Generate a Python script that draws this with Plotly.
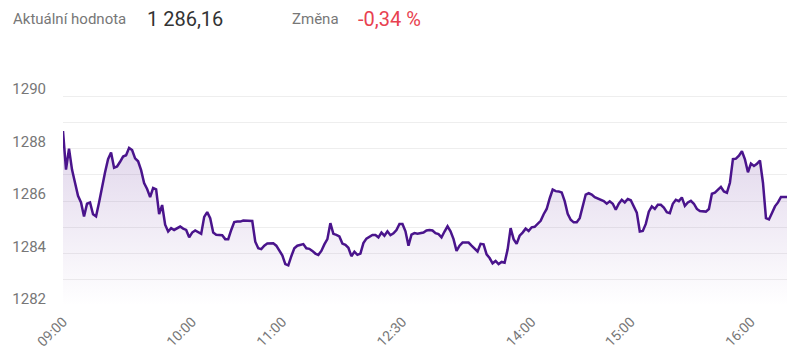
import plotly.graph_objects as go

values = [
    1288.67, 1287.2, 1288.0, 1287.2, 1286.7, 1286.2, 1285.95, 1285.41, 1285.9, 1285.95,
    1285.5, 1285.42, 1285.95, 1286.6, 1287.1, 1287.6, 1287.85, 1287.27, 1287.32, 1287.5,
    1287.7, 1287.75, 1288.03, 1287.95, 1287.63, 1287.52, 1287.18, 1286.69, 1286.46, 1286.15,
    1286.5, 1286.45, 1285.5, 1285.85, 1285.1, 1284.84, 1284.97, 1284.9, 1284.95, 1285.03,
    1284.95, 1284.9, 1284.62, 1284.8, 1284.88, 1284.8, 1284.75, 1285.4, 1285.58, 1285.35,
    1284.8, 1284.72, 1284.71, 1284.7, 1284.55, 1284.55, 1284.9, 1285.2, 1285.22, 1285.22,
    1285.26, 1285.26, 1285.26, 1285.24, 1284.45, 1284.2, 1284.17, 1284.3, 1284.38, 1284.39,
    1284.39, 1284.3, 1284.1, 1283.93, 1283.6, 1283.55, 1283.9, 1284.2, 1284.3, 1284.33,
    1284.36, 1284.2, 1284.18, 1284.1, 1284.0, 1283.95, 1284.1, 1284.35, 1284.55, 1285.16,
    1284.75, 1284.71, 1284.65, 1284.38, 1284.33, 1284.22, 1283.9, 1284.07, 1283.95, 1284.0,
    1284.4, 1284.57, 1284.64, 1284.71, 1284.71, 1284.62, 1284.8, 1284.68, 1284.85, 1284.7,
    1284.77, 1284.9, 1285.13, 1285.13, 1284.85, 1284.3, 1284.72, 1284.78, 1284.76, 1284.77,
    1284.8, 1284.88, 1284.9, 1284.88, 1284.78, 1284.74, 1284.62, 1284.84, 1285.04, 1284.85,
    1284.55, 1284.1, 1284.3, 1284.42, 1284.42, 1284.42, 1284.3, 1284.2, 1284.08, 1284.37,
    1284.35, 1283.97, 1283.83, 1283.63, 1283.72, 1283.6, 1283.68, 1283.65, 1284.15, 1284.97,
    1284.55, 1284.37, 1284.68, 1284.8, 1284.95, 1284.86, 1285.0, 1285.02, 1285.15, 1285.25,
    1285.5, 1285.7, 1286.1, 1286.44, 1286.38, 1286.37, 1286.33, 1286.0, 1285.52, 1285.29,
    1285.19, 1285.19, 1285.35, 1285.75, 1286.25, 1286.3, 1286.25, 1286.15, 1286.1, 1286.08,
    1286.0, 1285.9, 1285.99, 1285.9, 1285.67, 1285.9, 1286.05, 1285.95, 1286.08, 1286.03,
    1285.8, 1285.56, 1284.84, 1284.86, 1285.13, 1285.6, 1285.8, 1285.7, 1285.86, 1285.86,
    1285.75, 1285.58, 1285.54, 1285.9, 1286.05, 1286.0, 1286.14, 1285.82, 1285.95, 1286.01,
    1285.9, 1285.7, 1285.62, 1285.62, 1285.6, 1285.7, 1286.28, 1286.32, 1286.43, 1286.54,
    1286.37, 1286.32, 1286.7, 1287.6, 1287.62, 1287.73, 1287.9, 1287.59, 1287.1, 1287.43,
    1287.34, 1287.42, 1287.55, 1286.7, 1285.35, 1285.3, 1285.55, 1285.8, 1285.95, 1286.16,
    1286.16, 1286.16,
]
tick_index = [0, 43, 73, 113, 156, 189, 229]
tick_labels = ["09:00", "10:00", "11:00", "12:30", "14:00", "15:00", "16:00"]
y_grid = [1282, 1283, 1284, 1285, 1286, 1287, 1288, 1289, 1290, 1291]
y_labels = ["1282", "", "1284", "", "1286", "", "1288", "", "1290", ""]

current_label = "Aktuální hodnota"
current_value = "1 286,16"
change_label = "Změna"
change_value = "-0,34 %"

x = list(range(len(values)))

# page has an 8px body margin; figure coordinates = page coordinates - 8
OFF = 8
W, H = 784, 343
PL, PR, PT, PB = 63 - OFF, 787 - OFF, 70 - OFF, 306 - OFF

fig = go.Figure()
fig.add_trace(go.Scatter(
    x=x, y=values, mode="lines",
    line=dict(color="#4a148c", width=2.5),
    fill="tozeroy",
    fillgradient=dict(
        type="vertical",
        start=1282, stop=1288.7,
        colorscale=[[0, "rgba(110,60,160,0.0)"], [1, "rgba(110,60,160,0.22)"]],
    ),
    hoverinfo="skip",
))

def px_x(p):
    return (p - OFF - PL) / (PR - PL)

def px_y(p):
    return (PB - (p - OFF)) / (PB - PT)

ann = [
    dict(text=current_label, x=px_x(12), font=dict(size=15, color="#777777")),
    dict(text=current_value, x=px_x(146), font=dict(size=20, color="#333333")),
    dict(text=change_label, x=px_x(291), font=dict(size=15, color="#777777")),
    dict(text=change_value, x=px_x(357), font=dict(size=20, color="#e8414f")),
]
for a in ann:
    a.update(xref="paper", yref="paper", y=px_y(19), xanchor="left", yanchor="middle",
             showarrow=False, borderpad=0)

fig.update_layout(
    width=W, height=H,
    margin=dict(l=PL, r=W - PR, t=PT, b=H - PB, autoexpand=False),
    paper_bgcolor="white", plot_bgcolor="white",
    font=dict(family="Roboto", color="#777777"),
    showlegend=False,
    annotations=ann,
    xaxis=dict(
        range=[0, len(values) - 1],
        tickmode="array", tickvals=tick_index, ticktext=tick_labels,
        tickangle=-45, tickfont=dict(size=14, color="#777777"),
        showgrid=False, zeroline=False, showline=False, ticks="",
        ticklabelstandoff=4,
    ),
    yaxis=dict(
        range=[1282, 1291],
        tickmode="array", tickvals=y_grid, ticktext=y_labels,
        tickfont=dict(size=15, color="#777777"),
        showgrid=True, gridcolor="#eeeeee", gridwidth=1,
        zeroline=False, showline=False, ticks="",
        ticklabelshift=-7, ticklabelstandoff=16,
    ),
)

fig.write_html("out.html")
